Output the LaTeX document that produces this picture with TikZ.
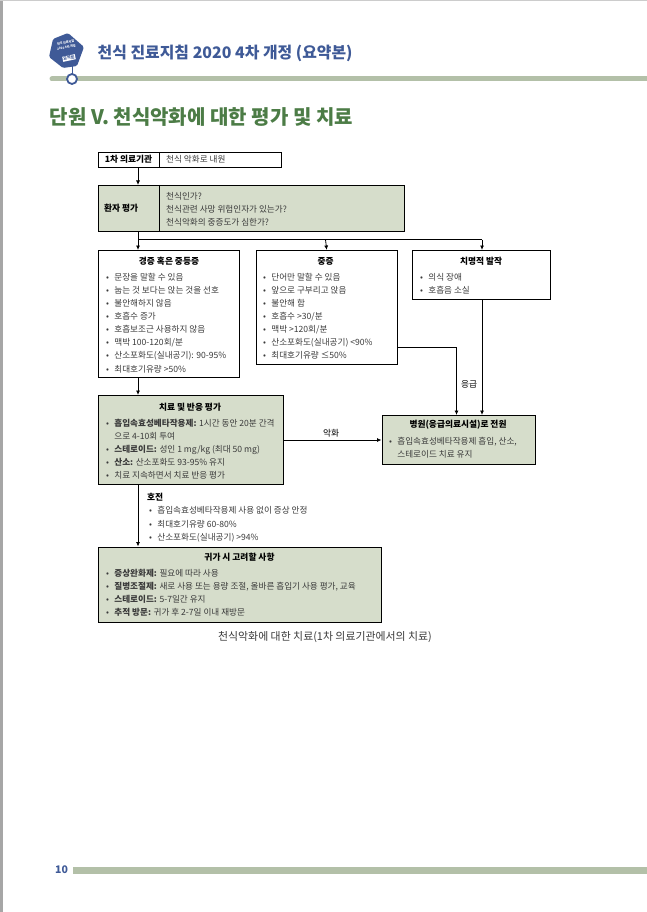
\documentclass[tikz,border=0pt]{standalone}
\usepackage{fontspec}
\setmainfont{Noto Sans CJK KR}
\usetikzlibrary{arrows.meta}

\definecolor{boxgreen}{HTML}{D6DDCB}
\definecolor{bargreen}{HTML}{B3C0A8}
\definecolor{titlegreen}{HTML}{4C7C46}
\definecolor{badgeblue}{HTML}{3F5A97}
\definecolor{bodygray}{HTML}{3A3A3A}

\newcommand{\bul}{\makebox[8.2pt][l]{•}}
\newcommand{\hang}{\hspace*{8.2pt}}

\tikzset{
  plainbox/.style={draw=black, line width=0.9pt, anchor=north west, inner sep=0pt},
  greenbox/.style={plainbox, fill=boxgreen},
  headtext/.style={text=black, font={\fontsize{8.7}{10}\selectfont\bfseries}, inner sep=0pt},
  bodytext/.style={text=bodygray, anchor=north west, align=left, inner sep=0pt,
                   font={\fontsize{8.6}{13.1}\selectfont}},
  flowline/.style={draw=black, line width=0.8pt},
  flowarrow/.style={flowline, -{Latex[length=4.5pt,width=4pt]}}
}

\begin{document}
\begin{tikzpicture}[x=1pt, y=-1pt]
  \useasboundingbox (0,0) rectangle (647,912);

  %% --- page edges ---
  \fill[gray!70] (0,0) rectangle (2.5,912);
  \fill[gray!40] (0,0) rectangle (647,1.5);

  %% --- header ---
  \draw[bargreen, line width=5pt, line cap=round] (52,79) -- (647,79);
  \draw[badgeblue, line width=1pt] (72,66) -- (72,74);
  \fill[badgeblue, rounded corners=1.5pt]
    (68,33) -- (53,39) -- (49,57) -- (63,68) -- (77,66) -- (84,47) -- cycle;
  \node[text=white, rotate=10, font={\fontsize{3}{5}\selectfont\bfseries}, align=center, inner sep=0pt]
    (badgetext) at (66,45) {천식 진료지침\\2020 4차 개정};
  \node[fill=white, text=badgeblue, rotate=12, font={\fontsize{4.2}{5}\selectfont\bfseries}, inner sep=0.6pt]
    (badgeband) at (69,58) {요약본};
  \draw[badgeblue, line width=1.8pt, fill=white] (72,79) circle (5pt);
  \node[text=badgeblue, anchor=west, font={\fontsize{15.9}{18}\selectfont\bfseries}, inner sep=0pt]
    (booktitle) at (97.5,53) {천식 진료지침 2020 4차 개정 (요약본)};
  \node[text=titlegreen, anchor=west, font={\fontsize{20}{24}\selectfont\bfseries}, inner sep=0pt]
    (unittitle) at (49.5,117) {단원 V. 천식악화에 대한 평가 및 치료};

  %% --- 1st row ---
  \node[plainbox, minimum width=183pt, minimum height=15pt] (clinic) at (98,152) {};
  \draw[flowline] (159,152) -- (159,167);
  \node[headtext] (clinichead) at (128.5,159.5) {1차 의료기관};
  \node[bodytext, anchor=west] (clinicbody) at (166,159.5) {천식 악화로 내원};

  %% --- assessment ---
  \node[greenbox, minimum width=306pt, minimum height=46pt] (assess) at (98,185) {};
  \draw[flowline] (159,185) -- (159,231);
  \node[headtext, anchor=west] (assesshead) at (104,208) {환자 평가};
  \node[bodytext] (assessbody) at (166,192) {천식인가?\\천식관련 사망 위험인자가 있는가?\\천식악화의 중증도가 심한가?};

  %% --- severity boxes ---
  \node[plainbox, minimum width=141pt, minimum height=127pt] (mild) at (98,250) {};
  \node[headtext] (mildhead) at (169,261) {경증 혹은 중등증};
  \node[bodytext] (mildbody) at (106,273) {\bul 문장을 말할 수 있음\\\bul 눕는 것 보다는 앉는 것을 선호\\\bul 불안해하지 않음\\\bul 호흡수 증가\\\bul 호흡보조근 사용하지 않음\\\bul 맥박 100-120회/분\\\bul 산소포화도(실내공기): 90-95\%\\\bul 최대호기유량 >50\%};

  \node[plainbox, minimum width=141.5pt, minimum height=114pt] (severe) at (255.5,250) {};
  \node[headtext] (severehead) at (325.5,261) {중증};
  \node[bodytext] (severebody) at (263,273) {\bul 단어만 말할 수 있음\\\bul 앞으로 구부리고 앉음\\\bul 불안해 함\\\bul 호흡수 >30/분\\\bul 맥박 >120회/분\\\bul 산소포화도(실내공기) <90\%\\\bul 최대호기유량 ≤50\%};

  \node[plainbox, minimum width=138pt, minimum height=49pt] (fatal) at (412,250) {};
  \node[headtext] (fatalhead) at (481,261) {치명적 발작};
  \node[bodytext] (fatalbody) at (420,273) {\bul 의식 장애\\\bul 호흡음 소실};

  %% --- treatment ---
  \node[greenbox, minimum width=185pt, minimum height=89pt] (treat) at (98,395) {};
  \node[headtext] (treathead) at (190,407) {치료 및 반응 평가};
  \node[bodytext] (treatbody) at (106,419) {\bul \textbf{흡입속효성베타작용제:} 1시간 동안 20분 간격\\\hang 으로 4-10회 투여\\\bul \textbf{스테로이드:} 성인 1 mg/kg (최대 50 mg)\\\bul \textbf{산소:} 산소포화도 93-95\% 유지\\\bul 치료 지속하면서 치료 반응 평가};

  %% --- hospital ---
  \node[greenbox, minimum width=153pt, minimum height=49pt] (hospital) at (381.5,415) {};
  \node[headtext] (hospitalhead) at (458,425) {병원(응급의료시설)로 전원};
  \node[bodytext] (hospitalbody) at (389,437) {\bul 흡입속효성베타작용제 흡입, 산소,\\\hang 스테로이드 치료 유지};

  %% --- improved ---
  \node[headtext, anchor=west] (betterhead) at (147,497) {호전};
  \node[bodytext] (betterbody) at (149,506.5) {\bul 흡입속효성베타작용제 사용 없이 증상 안정\\\bul 최대호기유량 60-80\%\\\bul 산소포화도(실내공기) >94\%};

  %% --- discharge ---
  \node[greenbox, minimum width=282.5pt, minimum height=75pt] (home) at (98,546.5) {};
  \node[headtext] (homehead) at (239.5,557) {귀가 시 고려할 사항};
  \node[bodytext] (homebody) at (106,569) {\bul \textbf{증상완화제:} 필요에 따라 사용\\\bul \textbf{질병조절제:} 새로 사용 또는 용량 조절, 올바른 흡입기 사용 평가, 교육\\\bul \textbf{스테로이드:} 5-7일간 유지\\\bul \textbf{추적 방문:} 귀가 후 2-7일 이내 재방문};

  %% --- connectors ---
  \draw[flowarrow] (clinic.south -| 138,0) -- (assess.north -| 138,0);
  \draw[flowline] (assess.south -| 138,0) -- (138,239.5);
  \draw[flowline] (138,239.5) -- (482,239.5);
  \draw[flowarrow] (138,239.5) -- (mild.north -| 138,0);
  \draw[flowarrow] (325.5,239.5) -- (severe.north);
  \draw[flowarrow] (482,239.5) -- (fatal.north -| 482,0);
  \draw[flowarrow] (mild.south -| 138,0) -- (treat.north -| 138,0);
  \draw[flowarrow] (treat.south -| 138,0) -- (home.north -| 138,0);
  \draw[flowarrow] (treat.east |- 0,440) -- (hospital.west |- 0,440);
  \draw[flowarrow] (severe.east |- 0,347) -| (456.5,415);
  \draw[flowarrow] (fatal.south -| 482,0) -- (hospital.north -| 482,0);
  \node[headtext, font={\fontsize{8.7}{10}\selectfont}] (worse) at (331,433) {악화};
  \node[headtext, font={\fontsize{8.7}{10}\selectfont}] (urgent) at (469,384) {응급};

  %% --- caption and footer ---
  \node[text=bodygray, font={\fontsize{10.9}{12}\selectfont}, inner sep=0pt] (caption) at (325,637.5)
    {천식악화에 대한 치료(1차 의료기관에서의 치료)};
  \fill[bargreen] (73,867) rectangle (647,874);
  \node[text=badgeblue, font={\fontsize{10.5}{12}\selectfont\bfseries}, inner sep=0pt] (pagenum) at (61.5,870) {10};
\end{tikzpicture}
\end{document}
